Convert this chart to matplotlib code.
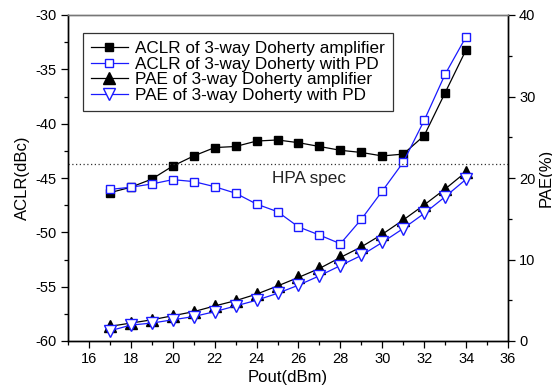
import numpy as np
import matplotlib.pyplot as plt
from matplotlib.ticker import MultipleLocator

plt.rcParams['font.family'] = ['Liberation Sans', 'DejaVu Sans']
plt.rcParams['axes.unicode_minus'] = False

pout = [17, 18, 19, 20, 21, 22, 23, 24, 25, 26, 27, 28, 29, 30, 31, 32, 33, 34]

aclr_doherty = [-46.35, -45.85, -45.1, -43.9, -42.97, -42.2, -42.1, -41.6, -41.5,
                -41.75, -42.1, -42.45, -42.65, -42.97, -42.8, -41.1, -37.15, -33.2]
aclr_pd = [-46.05, -45.85, -45.55, -45.15, -45.33, -45.8, -46.4, -47.4, -48.1,
           -49.5, -50.25, -51.05, -48.8, -46.2, -43.55, -39.7, -35.45, -32.0]

pae_doherty = [1.8, 2.2, 2.6, 3.1, 3.6, 4.3, 4.95, 5.75, 6.75, 7.8, 8.9, 10.25,
               11.55, 13.1, 14.85, 16.7, 18.65, 20.75]
pae_pd = [1.25, 1.95, 2.2, 2.6, 3.0, 3.6, 4.3, 5.0, 5.85, 6.85, 8.0, 9.25,
          10.5, 12.1, 13.8, 15.65, 17.7, 19.85]

hpa_spec = -43.75

fig = plt.figure(figsize=(5.52, 3.92), dpi=100)
ax = fig.add_axes([68 / 552, 1 - 341 / 392, 440 / 552, 326 / 392])
ax2 = ax.twinx()

l1, = ax.plot(pout, aclr_doherty, color='black', lw=0.9, marker='s', ms=5.8,
              mfc='black', mec='black', label='ACLR of 3-way Doherty amplifier')
l2, = ax.plot(pout, aclr_pd, color='#1a1aff', lw=0.9, marker='s', ms=5.8,
              mfc='white', mec='#1a1aff', mew=1.0, label='ACLR of 3-way Doherty with PD')
l3, = ax2.plot(pout, pae_doherty, color='black', lw=0.9, marker='^', ms=9,
               mfc='black', mec='black', label='PAE of 3-way Doherty amplifier')
l4, = ax2.plot(pout, pae_pd, color='#1a1aff', lw=0.9, marker='v', ms=9,
               mfc='white', mec='#1a1aff', mew=1.0, label='PAE of 3-way Doherty with PD')

ax.axhline(hpa_spec, color='#333333', lw=0.9, ls=(0, (1, 2)))
ax.text(26.5, -44.4, 'HPA spec', fontsize=12.3, ha='center', va='top', color='#222222')

ax.set_xlim(15, 36)
ax.set_ylim(-60, -30)
ax2.set_ylim(0, 40)

ax.xaxis.set_major_locator(MultipleLocator(2))
ax.xaxis.set_minor_locator(MultipleLocator(1))
ax.yaxis.set_major_locator(MultipleLocator(5))
ax.yaxis.set_minor_locator(MultipleLocator(2.5))
ax2.yaxis.set_major_locator(MultipleLocator(10))
ax2.yaxis.set_minor_locator(MultipleLocator(5))

xt = list(range(16, 37, 2))
ax.set_xticks(xt)
ax.set_xticklabels([str(v) for v in xt])

for a in (ax, ax2):
    a.tick_params(which='both', direction='out', labelsize=10.5, colors='black', pad=3)
    a.tick_params(which='major', length=5, width=0.9)
    a.tick_params(which='minor', length=3, width=0.9)
    for s in a.spines.values():
        s.set_linewidth(1.0)
    a.spines['top'].set_color('#777777')

ax.set_xlabel('Pout(dBm)', fontsize=12, labelpad=3)
ax.set_ylabel('ACLR(dBc)', fontsize=12, labelpad=4)
ax2.set_ylabel('PAE(%)', fontsize=12, labelpad=2)

leg = ax.legend(handles=[l1, l2, l3, l4], loc='upper left',
                bbox_to_anchor=(15 / 440, 1 - 18 / 326), fontsize=12.3,
                frameon=True, fancybox=False, edgecolor='black',
                handlelength=2.2, handletextpad=0.4, labelspacing=0.05,
                borderpad=0.45, borderaxespad=0)
leg.get_frame().set_linewidth(0.9)

fig.savefig('out.png', dpi=100)
